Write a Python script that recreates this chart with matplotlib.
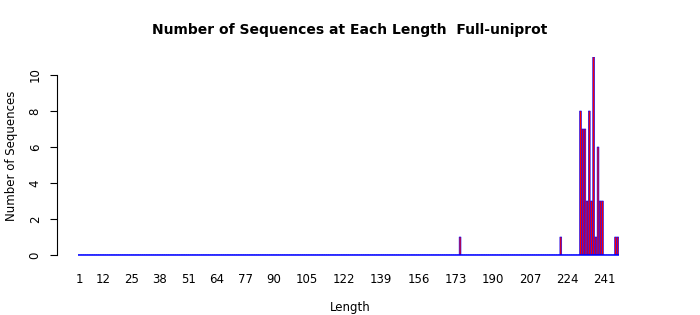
import numpy as np
import matplotlib
matplotlib.use("Agg")
import matplotlib.pyplot as plt

# lengths 1..247, only a few have sequences
max_length = 247
hit_lengths = [175, 221, 230, 231, 232, 233, 234, 235, 236, 237, 238, 239, 240, 246, 247]
hit_counts = [1, 1, 8, 7, 7, 3, 8, 3, 11, 1, 6, 3, 3, 1, 1]
label_lengths = [1, 12, 25, 38, 51, 64, 77, 90, 105, 122, 139, 156, 173, 190, 207, 224, 241]

lengths = np.arange(1, max_length + 1)
counts = np.zeros(max_length)
for L, c in zip(hit_lengths, hit_counts):
    counts[L - 1] = c

plt.rcParams["font.family"] = "DejaVu Sans"

W, H = 700, 315
fig = plt.figure(figsize=(W / 100, H / 100), dpi=100)
# pixel box of the plot region
left, right, bottom, top = 57, 643, 255, 57
ax = fig.add_axes([left / W, 1 - bottom / H, (right - left) / W, (bottom - top) / H])

px_per_len = 2.19
x0 = 1 - (79 - left) / px_per_len
x1 = 1 + (right - 79) / px_per_len
bw = 0.83
bars = ax.bar(lengths, counts, width=bw, color="red", edgecolor="blue", linewidth=0.45)
for b in bars:
    b.set_snap(False)
# zero-height bars leave a blue line along the baseline
ax.hlines(0, lengths[0] - bw / 2, lengths[-1] + bw / 2, color="blue",
          linewidth=1.1, clip_on=False, zorder=3)
ax.set_xlim(x0, x1)
ax.set_ylim(0, 11)

for s in ["top", "right", "bottom"]:
    ax.spines[s].set_visible(False)
ax.spines["left"].set_bounds(0, 10)
ax.spines["left"].set_linewidth(0.8)
ax.set_yticks([0, 2, 4, 6, 8, 10])
ax.set_yticklabels(["0", "2", "4", "6", "8", "10"], rotation=90, va="center", fontsize=8.5)
ax.tick_params(axis="y", length=5, width=0.8, pad=6)

ax.set_xticks(label_lengths)
ax.set_xticklabels([str(v) for v in label_lengths], fontsize=8.5)
ax.tick_params(axis="x", length=0, pad=13)

ax.set_ylabel("Number of Sequences", fontsize=8.5, labelpad=8)
fig.text(350 / W, 1 - 308 / H, "Length", ha="center", va="center", fontsize=8.5)
fig.text(350 / W, 1 - 30 / H, "Number of Sequences at Each Length  Full-uniprot",
         ha="center", va="center", fontsize=10, fontweight="bold")

fig.savefig("out.png", dpi=100)
